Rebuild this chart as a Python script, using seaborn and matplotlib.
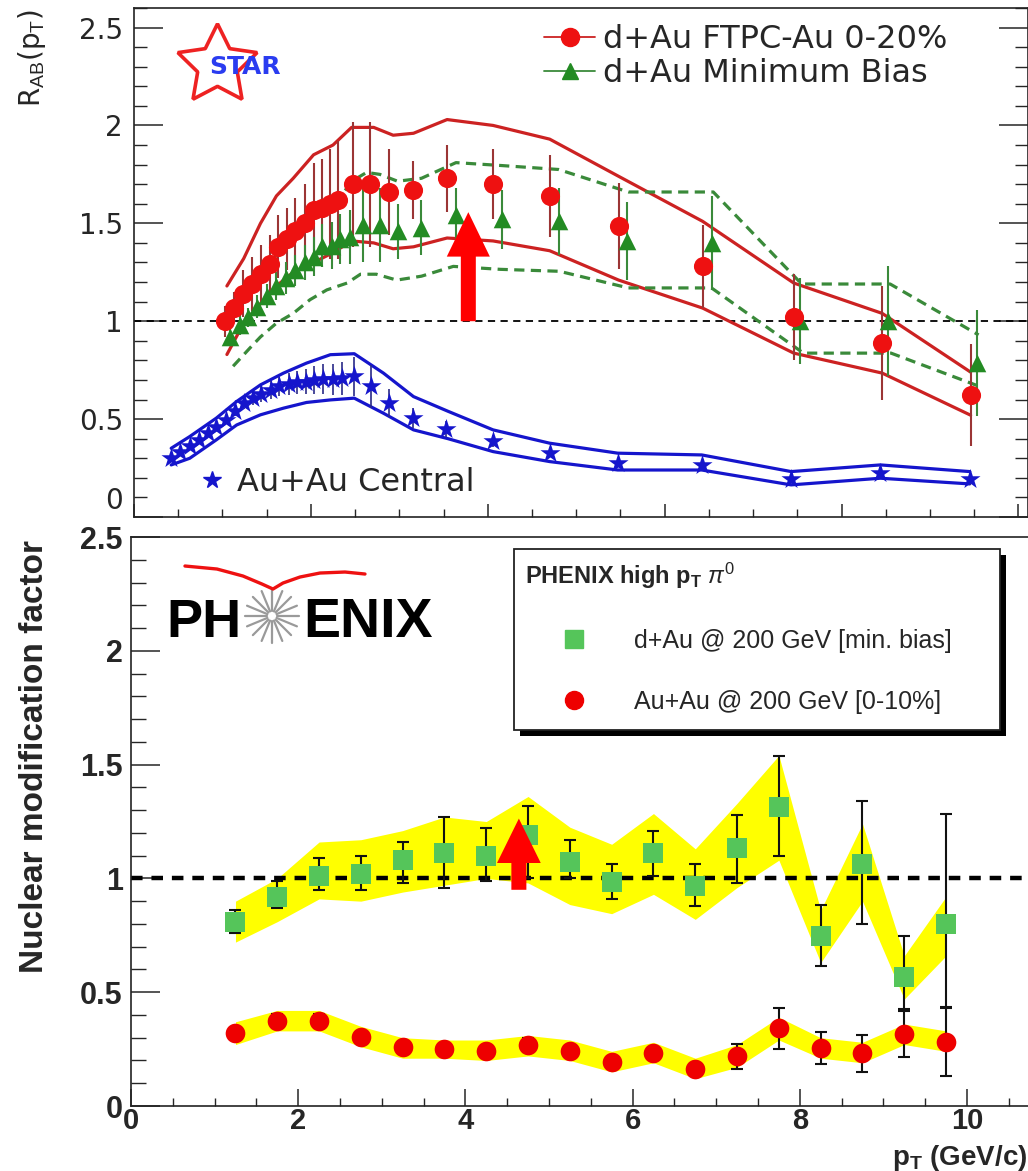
import numpy as np
import matplotlib
matplotlib.use("Agg")
import matplotlib.pyplot as plt
import seaborn as sns
from matplotlib.lines import Line2D
from matplotlib.patches import Rectangle, FancyArrowPatch, ArrowStyle
from matplotlib.ticker import MultipleLocator, FuncFormatter

# ---------------- STAR (top panel) data ----------------
dau_c_x = [1.03, 1.13, 1.23, 1.33, 1.43, 1.54, 1.63, 1.73, 1.82, 1.93, 2.03, 2.12, 2.22, 2.31,
           2.48, 2.67, 2.88, 3.16, 3.54, 4.06, 4.70, 5.48, 6.43, 7.46, 8.46, 9.46]
dau_c_y = [1.00, 1.07, 1.14, 1.19, 1.24, 1.29, 1.38, 1.42, 1.46, 1.50, 1.57, 1.58, 1.60, 1.62,
           1.70, 1.70, 1.66, 1.67, 1.73, 1.70, 1.64, 1.485, 1.28, 1.02, 0.89, 0.625]
dau_c_err = [0.08, 0.08, 0.12, 0.14, 0.15, 0.15, 0.16, 0.16, 0.17, 0.20, 0.24, 0.25, 0.28, 0.30,
             0.32, 0.32, 0.22, 0.15, 0.17, 0.18, 0.21, 0.22, 0.21, 0.22, 0.29, 0.26]

dau_mb_x = [1.09, 1.20, 1.29, 1.39, 1.50, 1.60, 1.72, 1.82, 1.93, 2.03, 2.13, 2.24, 2.33, 2.44,
            2.59, 2.78, 2.98, 3.25, 3.64, 4.16, 4.80, 5.57, 6.53, 7.53, 8.53, 9.53]
dau_mb_y = [0.92, 0.98, 1.02, 1.075, 1.13, 1.18, 1.22, 1.26, 1.30, 1.33, 1.386, 1.386, 1.42, 1.43,
            1.49, 1.49, 1.46, 1.477, 1.54, 1.52, 1.51, 1.41, 1.40, 1.00, 1.00, 0.786]
dau_mb_err = [0.04, 0.05, 0.05, 0.06, 0.06, 0.07, 0.08, 0.08, 0.09, 0.10, 0.11, 0.12, 0.13, 0.14,
              0.19, 0.19, 0.14, 0.14, 0.14, 0.15, 0.17, 0.20, 0.24, 0.22, 0.28, 0.27]

# red solid systematic band (d+Au 0-20%)
red_band_x = [1.05, 1.24, 1.43, 1.61, 1.80, 2.03, 2.25, 2.46, 2.71, 2.93, 3.16, 3.54, 4.06, 4.70,
              5.48, 6.43, 7.46, 8.46, 9.46]
red_band_hi = [1.18, 1.32, 1.50, 1.64, 1.73, 1.85, 1.90, 1.99, 1.99, 1.95, 1.96, 2.03, 2.00, 1.93,
               1.74, 1.51, 1.195, 1.04, 0.74]
red_band_lo = [0.83, 0.99, 1.09, 1.18, 1.25, 1.30, 1.35, 1.41, 1.40, 1.37, 1.38, 1.425, 1.41, 1.36,
               1.21, 1.067, 0.837, 0.735, 0.52]

# green dashed systematic band (d+Au MB)
grn_hi_x = [1.10, 1.30, 1.50, 1.70, 1.90, 2.10, 2.30, 2.48, 2.63, 2.78, 2.98, 3.25, 3.64, 4.16,
            4.80, 5.59, 6.55, 7.55, 8.55, 9.55]
grn_hi_y = [1.06, 1.17, 1.27, 1.40, 1.49, 1.57, 1.62, 1.72, 1.76, 1.75, 1.715, 1.73, 1.81, 1.795,
            1.775, 1.66, 1.66, 1.19, 1.19, 0.93]
grn_lo_x = [1.12, 1.31, 1.43, 1.61, 1.80, 1.99, 2.18, 2.41, 2.56, 2.74, 2.97, 3.25, 3.61, 4.14,
            4.81, 5.59, 6.53, 7.57, 8.56, 9.56]
grn_lo_y = [0.77, 0.863, 0.92, 0.99, 1.04, 1.11, 1.16, 1.195, 1.24, 1.24, 1.21, 1.23, 1.28, 1.265,
            1.255, 1.17, 1.17, 0.837, 0.837, 0.667]

# Au+Au central (blue stars)
auc_x = [0.42, 0.52, 0.63, 0.74, 0.84, 0.93, 1.04, 1.14, 1.24, 1.34, 1.44, 1.55, 1.64, 1.75, 1.84,
         1.95, 2.04, 2.14, 2.25, 2.35, 2.49, 2.68, 2.88, 3.16, 3.53, 4.06, 4.70, 5.47, 6.42, 7.43,
         8.44, 9.45]
auc_y = [0.303, 0.334, 0.363, 0.394, 0.431, 0.462, 0.496, 0.539, 0.582, 0.607, 0.629, 0.65, 0.667,
         0.679, 0.687, 0.692, 0.70, 0.704, 0.704, 0.709, 0.718, 0.667, 0.582, 0.505, 0.451, 0.39,
         0.329, 0.275, 0.266, 0.193, 0.227, 0.193]
auc_err = [0.01, 0.01, 0.01, 0.015, 0.015, 0.02, 0.02, 0.025, 0.03, 0.035, 0.04, 0.045, 0.05, 0.055,
           0.06, 0.065, 0.07, 0.075, 0.08, 0.085, 0.10, 0.11, 0.07, 0.05, 0.04, 0.03, 0.025, 0.02,
           0.02, 0.02, 0.03, 0.03]
auc_band_x = [0.42, 0.63, 0.93, 1.16, 1.43, 1.69, 1.95, 2.22, 2.49, 2.82, 3.16, 3.55, 4.06, 4.70,
              5.47, 6.42, 7.43, 8.44, 9.45]
auc_band_hi = [0.351, 0.411, 0.505, 0.59, 0.675, 0.735, 0.786, 0.829, 0.834, 0.735, 0.615, 0.54,
               0.445, 0.377, 0.326, 0.317, 0.232, 0.266, 0.232]
auc_band_lo = [0.266, 0.30, 0.394, 0.47, 0.522, 0.556, 0.585, 0.598, 0.607, 0.53, 0.445, 0.40,
               0.334, 0.283, 0.24, 0.24, 0.164, 0.198, 0.169]

top_ytick_labels = ['', '0.5', '1', '1.5', '2', '2.5']

# ---------------- PHENIX (bottom panel) data ----------------
phx_x = [1.25, 1.75, 2.25, 2.75, 3.25, 3.75, 4.25, 4.75, 5.25, 5.75, 6.25, 6.75, 7.25, 7.75,
         8.25, 8.75, 9.25, 9.75]
phx_dau_y = [0.81, 0.92, 1.01, 1.02, 1.08, 1.11, 1.10, 1.19, 1.07, 0.985, 1.11, 0.965, 1.135, 1.315,
             0.745, 1.065, 0.565, 0.80]
phx_dau_elo = [0.05, 0.05, 0.06, 0.07, 0.10, 0.15, 0.11, 0.19, 0.07, 0.075, 0.10, 0.085, 0.155, 0.215,
               0.13, 0.265, 0.14, 0.365]
phx_dau_ehi = [0.05, 0.07, 0.08, 0.08, 0.08, 0.16, 0.12, 0.13, 0.10, 0.08, 0.10, 0.10, 0.145, 0.225,
               0.14, 0.275, 0.18, 0.485]
phx_dau_sys_hi = [0.90, 1.00, 1.16, 1.17, 1.21, 1.27, 1.25, 1.36, 1.225, 1.15, 1.285, 1.13, 1.33, 1.54,
                  0.86, 1.24, 0.66, 0.92]
phx_dau_sys_lo = [0.72, 0.81, 0.91, 0.90, 0.94, 0.97, 1.00, 0.98, 0.885, 0.845, 0.93, 0.82, 0.96, 1.08,
                  0.63, 0.90, 0.47, 0.66]
phx_auau_y = [0.322, 0.374, 0.374, 0.304, 0.258, 0.249, 0.242, 0.267, 0.242, 0.194, 0.231, 0.161,
              0.219, 0.341, 0.253, 0.231, 0.316, 0.282]
phx_auau_err = [0.02, 0.03, 0.03, 0.02, 0.02, 0.02, 0.02, 0.03, 0.02, 0.02, 0.02, 0.02, 0.055, 0.09,
                0.07, 0.08, 0.10, 0.15]
phx_auau_sys_hi = [0.37, 0.42, 0.42, 0.35, 0.30, 0.29, 0.29, 0.31, 0.29, 0.24, 0.28, 0.21, 0.27, 0.39,
                   0.30, 0.28, 0.36, 0.33]
phx_auau_sys_lo = [0.27, 0.33, 0.33, 0.26, 0.21, 0.21, 0.20, 0.22, 0.20, 0.15, 0.19, 0.12, 0.17, 0.29,
                   0.21, 0.19, 0.27, 0.24]

# ---------------- style ----------------
sns.set_theme(style="ticks")
plt.rcParams['font.family'] = ['DejaVu Sans']
plt.rcParams['mathtext.fontset'] = 'custom'
plt.rcParams['mathtext.rm'] = 'Liberation Sans'
plt.rcParams['mathtext.bf'] = 'Liberation Sans:bold'
plt.rcParams['mathtext.it'] = 'Liberation Sans:italic'
plt.rcParams['axes.edgecolor'] = '#222222'
plt.rcParams['axes.linewidth'] = 1.2

RED = '#ee1111'
RED_LINE = '#cc2222'
RED_ERR = '#9b3535'
GRN = '#238b23'
GRN_LINE = '#3a8a3a'
BLUE = '#1515cc'

fig = plt.figure(figsize=(10.28, 11.71), dpi=100)
fig.patch.set_facecolor('white')

# ================= TOP PANEL (STAR) =================
axT = fig.add_axes([0.1304, 0.5585, 0.8697, 0.4347])
axT.set_facecolor('white')

axT.axhline(1.0, color='black', lw=1.3, ls=(0, (4, 3)), zorder=1)

for xs, ys in [(red_band_x, red_band_hi), (red_band_x, red_band_lo)]:
    sns.lineplot(x=xs, y=ys, ax=axT, color=RED_LINE, linewidth=2.3, sort=False,
                 estimator=None, legend=False, zorder=2)
for xs, ys in [(grn_hi_x, grn_hi_y), (grn_lo_x, grn_lo_y)]:
    sns.lineplot(x=xs, y=ys, ax=axT, color=GRN_LINE, linewidth=2.3, sort=False,
                 estimator=None, legend=False, zorder=2, linestyle=(0, (3.2, 2.0)))
for xs, ys in [(auc_band_x, auc_band_hi), (auc_band_x, auc_band_lo)]:
    sns.lineplot(x=xs, y=ys, ax=axT, color=BLUE, linewidth=2.3, sort=False,
                 estimator=None, legend=False, zorder=2)

axT.errorbar(dau_c_x, dau_c_y, yerr=dau_c_err, fmt='none', ecolor=RED_ERR, elinewidth=1.5,
             capsize=0, zorder=3)
axT.errorbar(dau_mb_x, dau_mb_y, yerr=dau_mb_err, fmt='none', ecolor=GRN_LINE, elinewidth=1.5,
             capsize=0, zorder=3)
axT.errorbar(auc_x, auc_y, yerr=auc_err, fmt='none', ecolor='#2a2a88', elinewidth=1.2,
             capsize=0, zorder=3)

sns.scatterplot(x=dau_mb_x, y=dau_mb_y, ax=axT, marker='^', s=160, color=GRN,
                edgecolor=GRN, linewidth=0, zorder=4, legend=False)
sns.scatterplot(x=dau_c_x, y=dau_c_y, ax=axT, marker='o', s=190, color=RED,
                edgecolor=RED, linewidth=0, zorder=5, legend=False)
sns.scatterplot(x=auc_x, y=auc_y, ax=axT, marker='*', s=230, color=BLUE,
                edgecolor=BLUE, linewidth=0, zorder=5, legend=False)

axT.set_xlim(0, 10.11)
axT.set_ylim(0, 2.6)
axT.set_xlabel('')
axT.set_ylabel('')
axT.xaxis.set_major_locator(MultipleLocator(2))
axT.xaxis.set_minor_locator(MultipleLocator(0.5))
axT.set_yticks([0, 0.5, 1.0, 1.5, 2.0, 2.5])
axT.set_yticklabels(top_ytick_labels)
axT.yaxis.set_minor_locator(MultipleLocator(0.1))
axT.tick_params(axis='x', which='major', direction='in', length=9.5, width=1.1,
                labelbottom=False, top=False, bottom=True)
axT.tick_params(axis='x', which='minor', direction='in', length=5.5, width=1.0,
                top=False, bottom=True)
axT.tick_params(axis='y', which='major', direction='in', length=21, width=1.1,
                left=True, right=True, labelsize=20, pad=8)
axT.tick_params(axis='y', which='minor', direction='in', length=9.5, width=1.0,
                left=True, right=True)
for lab in axT.get_yticklabels():
    lab.set_family('DejaVu Sans')
# the "0" of the top panel, kept just above the lower panel
fig.text(0.1195, 0.5600, '0', ha='right', va='bottom', fontsize=20, family='DejaVu Sans')

# red arrow (top)
axT.add_patch(FancyArrowPatch((3.78, 1.0), (3.78, 1.557),
                              arrowstyle=ArrowStyle.Simple(head_length=3.2, head_width=3.1,
                                                           tail_width=1.08),
                              mutation_scale=10, color='#ff0000', lw=0, shrinkA=0, shrinkB=0,
                              zorder=6))

# legends (top)
h_top = [Line2D([], [], color=RED_LINE, lw=1.3, marker='o', ms=13, mfc=RED, mec=RED),
         Line2D([], [], color=GRN_LINE, lw=1.3, marker='^', ms=12, mfc=GRN, mec=GRN)]
leg1 = axT.legend(h_top, ['d+Au FTPC-Au 0-20%', 'd+Au Minimum Bias'], loc='upper left',
                  bbox_to_anchor=(0.4586, 0.968), frameon=False, fontsize=23,
                  handlelength=1.6, handletextpad=0.25, labelspacing=0.08,
                  borderpad=0, borderaxespad=0)
axT.add_artist(leg1)
leg2 = axT.legend([Line2D([], [], ls='none', marker='*', ms=13, color=BLUE)], ['Au+Au Central'],
                  loc='center left', bbox_to_anchor=(0.072, 0.068), frameon=False, fontsize=23,
                  handlelength=0.85, handletextpad=0.35, borderpad=0, borderaxespad=0)

# STAR logo
axT.plot([0.093], [0.887], transform=axT.transAxes, marker=(5, 1, 0), ms=60, mfc='white',
         mec='#ee2222', mew=2.6, ls='none', clip_on=False, zorder=6)
axT.text(0.124, 0.884, 'STAR', transform=axT.transAxes, ha='center', va='center',
         fontsize=18, fontweight='bold', color='#2a3cf0', family='DejaVu Sans', zorder=7)

fig.text(0.031, 0.992, r'R$_{\mathrm{AB}}$(p$_{\mathrm{T}}$)', rotation=90, ha='center', va='top',
         fontsize=20, family='DejaVu Sans')

# ================= BOTTOM PANEL (PHENIX) =================
axB = fig.add_axes([0.1274, 0.0555, 0.8726, 0.4859])
axB.set_facecolor('white')
axB.spines['right'].set_visible(False)

axB.fill_between(phx_x, phx_dau_sys_lo, phx_dau_sys_hi, color='#ffff00', lw=0, zorder=1)
axB.fill_between(phx_x, phx_auau_sys_lo, phx_auau_sys_hi, color='#ffff00', lw=0, zorder=1)
axB.axhline(1.0, color='black', lw=3.2, ls=(0, (2.6, 2.0)), zorder=2)

axB.errorbar(phx_x, phx_dau_y, yerr=[phx_dau_elo, phx_dau_ehi], fmt='none', ecolor='#111111',
             elinewidth=1.5, capsize=4, capthick=1.5, zorder=3)
axB.errorbar(phx_x, phx_auau_y, yerr=phx_auau_err, fmt='none', ecolor='#111111',
             elinewidth=1.5, capsize=4, capthick=1.5, zorder=3)
sns.scatterplot(x=phx_x, y=phx_dau_y, ax=axB, marker='s', s=190, color='#55c55a',
                edgecolor='#55c55a', linewidth=0, zorder=4, legend=False)
sns.scatterplot(x=phx_x, y=phx_auau_y, ax=axB, marker='o', s=200, color='#ee0000',
                edgecolor='#ee0000', linewidth=0, zorder=4, legend=False)

axB.set_xlim(0, 10.73)
axB.set_ylim(0, 2.5)
axB.set_xlabel('')
axB.set_ylabel('')
axB.xaxis.set_major_locator(MultipleLocator(2))
axB.xaxis.set_minor_locator(MultipleLocator(0.5))
axB.yaxis.set_major_locator(MultipleLocator(0.5))
axB.yaxis.set_minor_locator(MultipleLocator(0.1))
axB.yaxis.set_major_formatter(FuncFormatter(lambda v, p: f'{v:g}'))
axB.xaxis.set_major_formatter(FuncFormatter(lambda v, p: f'{v:g}'))
axB.tick_params(axis='x', which='major', direction='in', length=12, width=1.1, top=False,
                labelsize=21, pad=0.5)
axB.tick_params(axis='x', which='minor', direction='in', length=6, width=1.0, top=False)
axB.tick_params(axis='y', which='major', direction='in', length=21, width=1.1, right=False,
                labelsize=22, pad=6)
axB.tick_params(axis='y', which='minor', direction='in', length=10.5, width=1.0, right=False)
for lab in axB.get_xticklabels() + axB.get_yticklabels():
    lab.set_family('Liberation Sans')
    lab.set_fontweight('bold')

# red arrow (bottom)
axB.add_patch(FancyArrowPatch((4.64, 0.95), (4.64, 1.263),
                              arrowstyle=ArrowStyle.Simple(head_length=3.2, head_width=3.15,
                                                           tail_width=1.08),
                              mutation_scale=10, color='#ff0000', lw=0, shrinkA=0, shrinkB=0,
                              zorder=6))

# PHENIX legend box with shadow
bx0, by0, bw, bh = 0.427, 0.661, 0.542, 0.318
axB.add_patch(Rectangle((bx0 + 0.0067, by0 - 0.0105), bw, bh, transform=axB.transAxes,
                        facecolor='black', edgecolor='none', zorder=7, clip_on=False))
axB.add_patch(Rectangle((bx0, by0), bw, bh, transform=axB.transAxes, facecolor='white',
                        edgecolor='#222222', lw=1.3, zorder=8, clip_on=False))
leg3 = axB.legend([Line2D([], [], ls='none', marker='s', ms=13, color='#55c55a'),
                   Line2D([], [], ls='none', marker='o', ms=13, color='#ee0000')],
                  ['d+Au @ 200 GeV [min. bias]', 'Au+Au @ 200 GeV [0-10%]'],
                  title=r'PHENIX high $\mathbf{p}_{\mathbf{T}}$ $\pi^{0}$',
                  title_fontproperties={'family': 'Liberation Sans', 'weight': 'bold', 'size': 17},
                  prop={'family': 'Liberation Sans', 'size': 18}, alignment='left',
                  loc='upper left', bbox_to_anchor=(0.439, 0.958), frameon=False, borderpad=0,
                  borderaxespad=0, handlelength=3.9, handletextpad=0.46, labelspacing=1.5)
leg3.set_zorder(9)

# PHENIX logo
axB.text(0.040, 0.824, 'PH', transform=axB.transAxes, ha='left', va='baseline', fontsize=39,
         fontweight='bold', family='Liberation Sans', color='black', zorder=6)
axB.text(0.1918, 0.824, 'ENIX', transform=axB.transAxes, ha='left', va='baseline', fontsize=40,
         fontweight='bold', family='Liberation Sans', color='black', zorder=6)
cx_px, cy_px = 272.0, 616.0
for ang in np.linspace(0, 2 * np.pi, 16, endpoint=False):
    r0, r1 = 5.0, 27.0
    xs = [(cx_px + r0 * np.cos(ang) - 131) / 897, (cx_px + r1 * np.cos(ang) - 131) / 897]
    ys = [(1106 - cy_px - r0 * np.sin(ang)) / 569, (1106 - cy_px - r1 * np.sin(ang)) / 569]
    axB.plot(xs, ys, transform=axB.transAxes, color='#9a9a9a', lw=1.6, zorder=6)
swoosh_px = [(185, 566), (217, 569), (243, 576), (262, 584), (273, 589), (283, 583), (300, 577),
             (320, 573), (345, 572), (365, 574)]
axB.plot([(p[0] - 131) / 897 for p in swoosh_px], [(1106 - p[1]) / 569 for p in swoosh_px],
         transform=axB.transAxes, color='#ee1111', lw=2.4, zorder=6, solid_capstyle='round')

fig.text(0.034, 0.354, 'Nuclear modification factor', rotation=90, ha='center', va='center',
         fontsize=24, fontweight='bold', family='Liberation Sans')
fig.text(0.999, 0.0052, r'$\mathbf{p}_{\mathbf{T}}$ (GeV/c)', ha='right', va='baseline',
         fontsize=20, fontweight='bold', family='Liberation Sans')

fig.savefig('out.png', dpi=100, facecolor='white')
